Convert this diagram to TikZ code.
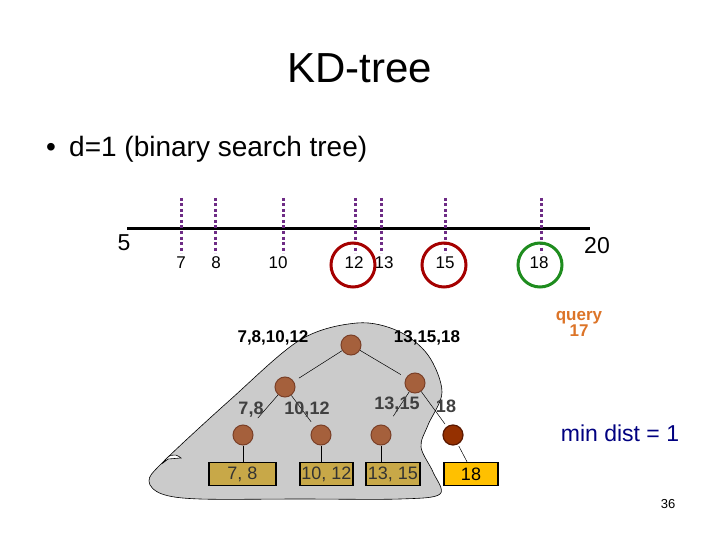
\documentclass[tikz,border=0pt]{standalone}
\usepackage{fontspec}
\setmainfont{Liberation Sans}
\definecolor{dotpurple}{HTML}{6E2C86}
\definecolor{circred}{HTML}{A50000}
\definecolor{circgreen}{HTML}{1E8C1E}
\definecolor{nodebrown}{HTML}{A5603C}
\definecolor{nodebrownd}{HTML}{7A4028}
\definecolor{nodedark}{HTML}{953000}
\definecolor{nodedarkd}{HTML}{5A1800}
\definecolor{blobgray}{HTML}{CBCBCB}
\definecolor{boxgold}{HTML}{C8A848}
\definecolor{boxyellow}{HTML}{FFC000}
\definecolor{queryorange}{HTML}{DC7428}
\definecolor{navytext}{HTML}{000080}
\definecolor{labelgray}{HTML}{404040}
\definecolor{boxtext}{HTML}{333333}
\begin{document}
\begin{tikzpicture}[x=1pt,y=-1pt,
  tnode/.style={circle,minimum size=20pt,inner sep=0pt,fill=nodebrown,draw=nodebrownd,line width=1pt},
  tdark/.style={circle,minimum size=20pt,inner sep=0pt,fill=nodedark,draw=nodedarkd,line width=1.2pt},
  leafbox/.style={draw=black,line width=1.5pt,fill=boxgold,inner sep=0pt,minimum height=23pt,text=boxtext,font=\fontsize{18}{20}\selectfont},
  edge/.style={draw=black,line width=0.5pt},
  dotline/.style={draw=dotpurple,line width=3pt,dash pattern=on 3pt off 2.5pt},
  numlbl/.style={inner sep=0pt,font=\fontsize{17}{19}\selectfont},
  biglbl/.style={inner sep=0pt,font=\fontsize{23}{25}\selectfont},
  grplbl/.style={inner sep=0pt,font=\bfseries\fontsize{17}{19}\selectfont},
  sublbl/.style={inner sep=0pt,text=labelgray,font=\bfseries\fontsize{18}{20}\selectfont},
  ring/.style={line width=3pt}]
\useasboundingbox (0,0) rectangle (720,540);
% title and bullet
\node[anchor=base,inner sep=0pt,font=\fontsize{42}{48}\selectfont] (title) at (360,83) {KD-tree};
\node[anchor=base,inner sep=0pt,font=\fontsize{28}{32}\selectfont] (bul) at (51,157) {•};
\node[anchor=base west,inner sep=0pt,font=\fontsize{28}{32}\selectfont] (sub) at (69,157) {d=1 (binary search tree)};
% number line
\draw[line width=3pt] (127,229) -- (590,229);
\foreach \x in {181,215,283,355,381,445,541} \draw[dotline] (\x,198) -- (\x,253);
\node[biglbl] (n5) at (124,243) {5};
\node[biglbl] (n20) at (597,246) {20};
\node[numlbl] (n7) at (181,263) {7};
\node[numlbl] (n8) at (216,263) {8};
\node[numlbl] (n10) at (278,263) {10};
\node[numlbl] (n12) at (354,263) {12};
\node[numlbl] (n13) at (384,263) {13};
\node[numlbl] (n15) at (445,263) {15};
\node[numlbl] (n18) at (539,263) {18};
\draw[ring,circred] (353,265) circle (22);
\draw[ring,circred] (444,265) circle (22);
\draw[ring,circgreen] (540,265) circle (22);
% blob
\draw[fill=blobgray,line width=0.6pt] plot[smooth cycle,tension=0.55] coordinates {
 (357,323) (398,331) (428,355) (442,392) (428,425) (421,447) (433,472) (440,494)
 (400,499) (300,499) (200,499) (162,494) (149,481) (163,462) (230,400) (300,340)};
\draw[fill=white,line width=0.6pt] (163,463) .. controls (168,455) and (174,452) .. (181,458) -- (168,459) -- cycle;
% tree nodes
\node[tnode] (root) at (351,345) {};
\node[tnode] (lc) at (285,387) {};
\node[tnode] (rc) at (415,383) {};
\node[tnode] (l1) at (243,435) {};
\node[tnode] (l2) at (321,435) {};
\node[tnode] (l3) at (381,435) {};
\node[tdark] (l4) at (453,435) {};
% boxes
\node[leafbox,minimum width=67pt] (b1) at (242.5,474) {7, 8};
\node[leafbox,minimum width=53pt] (b2) at (326.5,474) {10, 12};
\node[leafbox,minimum width=54pt] (b3) at (393,474) {13, 15};
\node[leafbox,minimum width=54pt,fill=boxyellow,text=black] (b4) at (471,474) {18};
% edges
\draw[edge,shorten >=6pt] (root) -- (lc);
\draw[edge,shorten >=6pt] (root) -- (rc);
\draw[edge,shorten >=12pt] (lc) -- (l1);
\draw[edge,shorten >=6pt] (lc) -- (l2);
\draw[edge,shorten >=12pt] (rc) -- (l3);
\draw[edge,shorten >=3pt] (rc) -- (l4);
\draw[edge] (l1) -- (l1 |- b1.north);
\draw[edge] (l2) -- (l2 |- b2.north);
\draw[edge] (l3) -- (l3 |- b3.north);
\draw[edge,shorten <=2pt] (l4) -- (b4.north -| 467,0);
% labels
\node[grplbl] (g1) at (273,338) {7,8,10,12};
\node[grplbl] (g2) at (427,338) {13,15,18};
\node[sublbl] (s1) at (251,410) {7,8};
\node[sublbl] (s2) at (307,410) {10,12};
\node[sublbl] (s3) at (397,405) {13,15};
\node[sublbl] (s4) at (446,406) {18};
% query and distance
\node[inner sep=0pt,text=queryorange,font=\bfseries\fontsize{17}{16}\selectfont,align=center] (q) at (579,324) {query\\17};
\node[inner sep=0pt,text=navytext,font=\fontsize{23}{25}\selectfont] (md) at (620,433) {min dist = 1};
\node[inner sep=0pt,font=\fontsize{13}{15}\selectfont] (pg) at (668,504) {36};
\end{tikzpicture}
\end{document}
